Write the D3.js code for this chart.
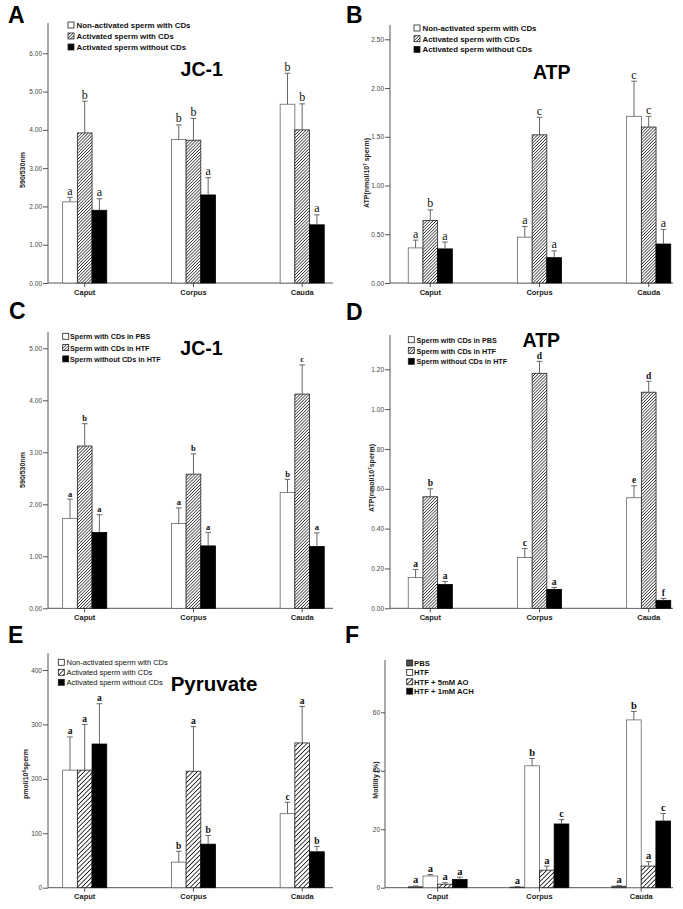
<!DOCTYPE html>
<html lang="en">
<head>
<meta charset="UTF-8">
<title>Sperm CDs figure</title>
<script src="https://d3js.org/d3.v7.min.js"></script>
<style>
  body { margin: 0; background: #fff; }
  svg { display: block; font-family: "Liberation Sans", Arial, sans-serif; }
</style>
</head>
<body>
<svg id="fig" width="683" height="909"></svg>
<script>
// ---- data ----
const regions = ["Caput", "Corpus", "Cauda"];
const legendActivation = ["Non-activated sperm with CDs", "Activated sperm with CDs", "Activated sperm without CDs"];
const legendMedium = ["Sperm with CDs in PBS", "Sperm with CDs in HTF", "Sperm without CDs in HTF"];
const legendMotility = ["PBS", "HTF", "HTF + 5mM AO", "HTF + 1mM ACH"];

// rows = region, columns = series
const jc1ActMean = [[2.12, 3.92, 1.90], [3.75, 3.73, 2.30], [4.67, 4.00, 1.52]];
const jc1ActSE = [[0.12, 0.83, 0.30], [0.38, 0.57, 0.45], [0.81, 0.68, 0.26]];
const jc1ActLetters = [["a", "b", "a"], ["b", "b", "a"], ["b", "b", "a"]];
const jc1ActTicks = [0, 1, 2, 3, 4, 5, 6];

const atpActMean = [[0.36, 0.64, 0.35], [0.47, 1.52, 0.26], [1.71, 1.60, 0.40]];
const atpActSE = [[0.08, 0.11, 0.07], [0.11, 0.18, 0.07], [0.36, 0.11, 0.15]];
const atpActLetters = [["a", "b", "a"], ["a", "c", "a"], ["c", "c", "a"]];
const atpActTicks = [0, 0.5, 1, 1.5, 2, 2.5];

const jc1MedMean = [[1.73, 3.12, 1.46], [1.63, 2.58, 1.20], [2.23, 4.12, 1.19]];
const jc1MedSE = [[0.37, 0.43, 0.34], [0.30, 0.39, 0.26], [0.25, 0.56, 0.26]];
const jc1MedLetters = [["a", "b", "a"], ["a", "b", "a"], ["b", "c", "a"]];
const jc1MedTicks = [0, 1, 2, 3, 4, 5];

const atpMedMean = [[0.155, 0.56, 0.12], [0.255, 1.18, 0.095], [0.555, 1.085, 0.04]];
const atpMedSE = [[0.04, 0.04, 0.015], [0.045, 0.06, 0.01], [0.06, 0.055, 0.01]];
const atpMedLetters = [["a", "b", "a"], ["c", "d", "a"], ["e", "d", "f"]];
const atpMedTicks = [0, 0.2, 0.4, 0.6, 0.8, 1.0, 1.2];

const pyrMean = [[216, 216, 264], [47, 214, 80], [136, 266, 66]];
const pyrSE = [[61, 84, 74], [20, 82, 16], [21, 67, 10]];
const pyrLetters = [["a", "a", "a"], ["b", "a", "b"], ["c", "a", "b"]];
const pyrTicks = [0, 100, 200, 300, 400];

const motMean = [[0.3, 4.0, 1.2, 2.8], [0.2, 41.7, 6.0, 21.8], [0.5, 57.4, 7.4, 22.8]];
const motSE = [[0.3, 0.5, 0.5, 0.8], [0.2, 2.5, 1.4, 1.5], [0.3, 2.9, 1.5, 2.6]];
const motLetters = [["a", "a", "a", "a"], ["a", "b", "a", "c"], ["a", "b", "a", "c"]];
const motTicks = [0, 20, 40, 60];

// ---- drawing ----
const svg = d3.select("#fig");
const defs = svg.append("defs");
function hatch(id, size, sw) {
  const p = defs.append("pattern").attr("id", id).attr("patternUnits", "userSpaceOnUse")
    .attr("width", size).attr("height", size).attr("patternTransform", "rotate(45)");
  p.append("rect").attr("width", size).attr("height", size).attr("fill", "#fff");
  p.append("line").attr("x1", 0).attr("y1", 0).attr("x2", 0).attr("y2", size)
    .attr("stroke", "#000").attr("stroke-width", sw);
}
hatch("hatchFine", 2.2, 1.2);
hatch("hatchCoarse", 3.2, 1.5);

const f2 = d3.format(".2f"), f0 = d3.format("d");

function fillOf(kind, hatchId) {
  if (kind === "white") return { fill: "#fff", stroke: "#666" };
  if (kind === "hatch") return { fill: `url(#${hatchId})`, stroke: "#222" };
  if (kind === "grey") return { fill: "#4d4d4d", stroke: "#333" };
  return { fill: "#000", stroke: "#000" };
}

function drawPanel(p) {
  const g = svg.append("g");
  const x = d3.scalePoint().domain(regions).range(p.centers);
  const y = d3.scaleLinear().domain([0, d3.max(p.ticks)]).range([p.base, p.topPx]);
  const n = p.kinds.length, bw = 14.7;

  // panel letter
  g.append("text").attr("x", p.letter[0]).attr("y", p.letter[1])
    .attr("font-size", 23).attr("font-weight", "bold").text(p.id);

  // y axis
  g.append("g").attr("transform", `translate(${p.x0},0)`)
    .call(d3.axisLeft(y).tickValues(p.ticks).tickFormat(p.fmt).tickSize(p.tickLen || 5).tickPadding(1))
    .call(a => {
      a.attr("font-family", null).attr("font-size", 6.5);
      a.select(".domain").remove();
      a.selectAll("line").attr("stroke", "#555");
      a.selectAll("text").attr("fill", "#444");
    });
  g.append("line").attr("x1", p.x0).attr("x2", p.x0).attr("y1", p.base).attr("y2", p.axisTop)
    .attr("stroke", "#555");
  g.append("line").attr("x1", p.x0).attr("x2", p.x1).attr("y1", p.base).attr("y2", p.base)
    .attr("stroke", "#555");

  // x ticks and labels
  g.selectAll(".xt").data(regions).join("line")
    .attr("x1", d => x(d)).attr("x2", d => x(d)).attr("y1", p.base).attr("y2", p.base + 4)
    .attr("stroke", "#555");
  g.selectAll(".xl").data(regions).join("text")
    .attr("x", d => x(d)).attr("y", p.base + 11.5).attr("text-anchor", "middle")
    .attr("font-size", 7.5).attr("font-weight", "bold").attr("fill", "#222").text(d => d);

  // y label
  const yl = g.append("text").attr("transform", `translate(${p.ylab[0]},${p.ylab[1]}) rotate(-90)`)
    .attr("text-anchor", "middle").attr("font-size", 7).attr("font-weight", "bold").attr("fill", "#222");
  p.ylabParts.forEach(([t, sup]) => {
    const ts = yl.append("tspan").text(t);
    if (sup) ts.attr("font-size", 4.5).attr("baseline-shift", "super");
  });

  // bars
  const rows = regions.flatMap((r, gi) => p.means[gi].map((m, si) => ({
    r, si, m, se: p.se[gi][si], lab: p.letters[gi][si]
  })));
  const bx = d => x(d.r) + (d.si - n / 2) * bw;
  g.selectAll(".bar").data(rows).join("rect")
    .attr("x", bx).attr("y", d => y(d.m)).attr("width", bw).attr("height", d => p.base - y(d.m))
    .attr("fill", d => fillOf(p.kinds[d.si], p.hatchId).fill)
    .attr("stroke", d => fillOf(p.kinds[d.si], p.hatchId).stroke).attr("stroke-width", 0.8);

  // error whiskers
  g.selectAll(".eb").data(rows).join("path")
    .attr("d", d => {
      const cx = bx(d) + bw / 2, t = y(d.m + d.se);
      return `M${cx},${y(d.m)}V${t}M${cx - 2.8},${t}H${cx + 2.8}`;
    })
    .attr("stroke", "#666").attr("stroke-width", 1).attr("fill", "none");

  // significance letters
  g.selectAll(".sig").data(rows).join("text")
    .attr("x", d => bx(d) + bw / 2).attr("y", d => y(d.m + d.se) - 2.5)
    .attr("text-anchor", "middle").attr("font-family", "'Liberation Serif', 'Times New Roman', serif")
    .attr("font-size", p.sigSize).attr("font-weight", p.sigWeight).attr("fill", "#111")
    .text(d => d.lab);

  // legend
  p.legend.forEach((t, i) => {
    const ty = p.leg.top + i * p.leg.step;
    const s = fillOf(p.kinds[i], p.hatchId);
    g.append("rect").attr("x", p.leg.x).attr("y", ty).attr("width", 6).attr("height", 6)
      .attr("fill", s.fill).attr("stroke", "#222").attr("stroke-width", 0.8);
    g.append("text").attr("x", p.leg.tx).attr("y", ty + 6)
      .attr("font-size", p.leg.size).attr("font-weight", p.leg.weight).attr("fill", "#111").text(t);
  });

  // title
  if (p.title) {
    g.append("text").attr("x", p.title[0]).attr("y", p.title[1]).attr("text-anchor", "middle")
      .attr("font-size", p.title[3]).attr("font-weight", "bold").text(p.title[2]);
  }
}

const three = ["white", "hatch", "black"];

drawPanel({
  id: "A", letter: [8, 23], x0: 48, x1: 333, base: 283, topPx: 53.3, axisTop: 23,
  centers: [84.7, 302.2], ticks: jc1ActTicks, fmt: f2, kinds: three, hatchId: "hatchFine",
  means: jc1ActMean, se: jc1ActSE, letters: jc1ActLetters, sigSize: 12, sigWeight: "normal",
  ylab: [24.5, 170], ylabParts: [["590/530nm"]],
  legend: legendActivation, leg: { x: 68, tx: 76.5, top: 22, step: 11, size: 7.9, weight: "bold" },
  title: [201.7, 76, "JC-1", 19.5]
});

drawPanel({
  id: "B", letter: [346, 23], x0: 390, x1: 673, base: 283, topPx: 39.3, axisTop: 25,
  centers: [430.3, 648.7], ticks: atpActTicks, fmt: f2, kinds: three, hatchId: "hatchFine",
  means: atpActMean, se: atpActSE, letters: atpActLetters, sigSize: 12, sigWeight: "normal",
  ylab: [368.5, 173], ylabParts: [["ATP(nmol/10"], ["7", true], [" sperm)"]],
  legend: legendActivation, leg: { x: 414, tx: 422.5, top: 25, step: 10.7, size: 7.9, weight: "bold" },
  title: [551.7, 79, "ATP", 19.5]
});

drawPanel({
  id: "C", letter: [9, 319], x0: 48, x1: 333, base: 608.3, topPx: 348.3, axisTop: 331.7,
  centers: [84.7, 302.2], ticks: jc1MedTicks, fmt: f2, kinds: three, hatchId: "hatchFine",
  means: jc1MedMean, se: jc1MedSE, letters: jc1MedLetters, sigSize: 8.5, sigWeight: "bold",
  ylab: [24.5, 470], ylabParts: [["590/530nm"]],
  legend: legendMedium, leg: { x: 62.7, tx: 70, top: 333.3, step: 11.3, size: 7.2, weight: "bold" },
  title: [201.5, 354.5, "JC-1", 19.5]
});

drawPanel({
  id: "D", letter: [346, 320], x0: 390, x1: 673, base: 608.3, topPx: 369.3, axisTop: 335,
  centers: [430.3, 648.7], ticks: atpMedTicks, fmt: f2, kinds: three, hatchId: "hatchFine",
  means: atpMedMean, se: atpMedSE, letters: atpMedLetters, sigSize: 9.5, sigWeight: "bold",
  ylab: [374, 478], ylabParts: [["ATP(nmol/10"], ["7", true], ["sperm)"]],
  legend: legendMedium, leg: { x: 408.3, tx: 416.5, top: 336.7, step: 10.8, size: 7.2, weight: "bold" },
  title: [541.3, 347, "ATP", 19.5]
});

drawPanel({
  id: "E", letter: [8, 643], x0: 48, x1: 333, base: 887.7, topPx: 670, axisTop: 653,
  centers: [84.7, 302.2], ticks: pyrTicks, fmt: f0, kinds: three, hatchId: "hatchCoarse",
  means: pyrMean, se: pyrSE, letters: pyrLetters, sigSize: 9.5, sigWeight: "bold",
  ylab: [27.5, 774], ylabParts: [["pmol/10"], ["6", true], ["sperm"]],
  legend: legendActivation, leg: { x: 58.3, tx: 66.5, top: 659.3, step: 10, size: 7.5, weight: "normal" },
  title: [214, 691, "Pyruvate", 20.5]
});

drawPanel({
  id: "F", letter: [345, 643], x0: 385, x1: 673, base: 887.7, topPx: 712.3, axisTop: 660,
  centers: [437.7, 641.2], ticks: motTicks, fmt: f0, kinds: ["grey", "white", "hatch", "black"],
  hatchId: "hatchCoarse", tickLen: 4,
  means: motMean, se: motSE, letters: motLetters, sigSize: 10.5, sigWeight: "bold",
  ylab: [377.5, 780], ylabParts: [["Motility (%)"]],
  legend: legendMotility, leg: { x: 406.7, tx: 414, top: 660, step: 9.4, size: 7.7, weight: "bold" }
});
</script>
</body>
</html>
